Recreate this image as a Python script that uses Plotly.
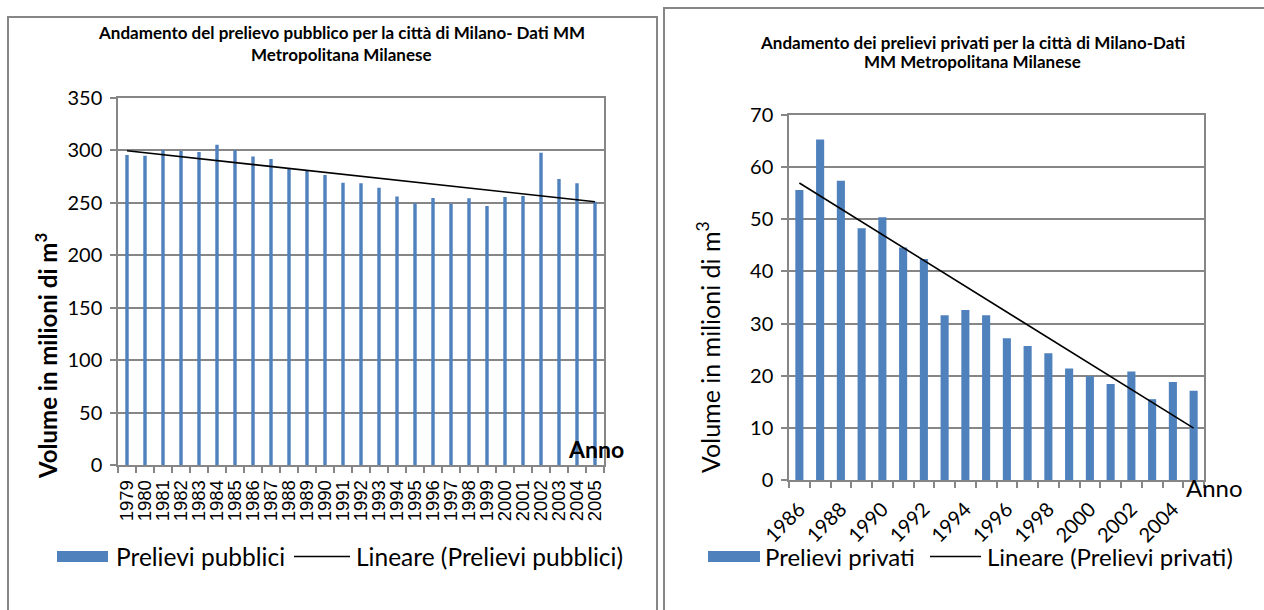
import numpy as np
import plotly.graph_objects as go

W, H = 1264, 610

# Public withdrawals (million m3), 1979-2005
anni_pub = list(range(1979, 2006))
prelievi_pubblici = [295.2, 294.6, 300.0, 299.0, 298.0, 305.0, 299.7, 293.7, 291.4,
                     281.9, 280.0, 276.2, 268.9, 268.3, 264.0, 255.6, 249.2, 254.3,
                     248.9, 254.0, 246.7, 255.2, 256.2, 297.5, 272.4, 268.3, 250.8]

# Private withdrawals (million m3), 1986-2005
anni_priv = list(range(1986, 2006))
prelievi_privati = [55.6, 65.3, 57.4, 48.3, 50.4, 44.6, 42.4, 31.6, 32.6, 31.6,
                    27.2, 25.7, 24.3, 21.4, 19.9, 18.4, 20.8, 15.5, 18.8, 17.1]

y_ticks_pub = [0, 50, 100, 150, 200, 250, 300, 350]
y_ticks_priv = [0, 10, 20, 30, 40, 50, 60, 70]
x_labels_priv = list(range(1986, 2005, 2))

BAR = "#4F81BD"
GRID = "#868686"
CAL = "Lato"
ARIAL = "Liberation Sans"


def px(x):
    return x / W


def py(y):
    return 1 - y / H


# Linear trend lines (least squares), as in the spreadsheet
c_pub = np.polyfit(anni_pub, prelievi_pubblici, 1)
trend_pub = np.polyval(c_pub, anni_pub)
c_priv = np.polyfit(anni_priv, prelievi_privati, 1)
trend_priv = np.polyval(c_priv, anni_priv)

fig = go.Figure()
fig.add_trace(go.Bar(x=anni_pub, y=prelievi_pubblici, width=0.19,
                     marker=dict(color=BAR, line=dict(width=0)),
                     xaxis="x", yaxis="y", showlegend=False))
fig.add_trace(go.Scatter(x=anni_pub, y=trend_pub, mode="lines",
                         line=dict(color="black", width=1.6),
                         xaxis="x", yaxis="y", showlegend=False))
fig.add_trace(go.Bar(x=anni_priv, y=prelievi_privati, width=0.39,
                     marker=dict(color=BAR, line=dict(width=0)),
                     xaxis="x2", yaxis="y2", showlegend=False))
fig.add_trace(go.Scatter(x=anni_priv, y=trend_priv, mode="lines",
                         line=dict(color="black", width=1.6),
                         xaxis="x2", yaxis="y2", showlegend=False))

axis_common = dict(showline=True, linecolor=GRID, linewidth=1.5, mirror=True,
                   zeroline=False, automargin=False)

fig.update_layout(
    width=W, height=H,
    margin=dict(l=0, r=0, t=0, b=0, autoexpand=False),
    paper_bgcolor="white", plot_bgcolor="white",
    showlegend=False,
    xaxis=dict(domain=[px(118), px(604)], anchor="y",
               range=[1978.5, 2005.5], tickmode="array", tickvals=anni_pub,
               ticktext=[str(a) for a in anni_pub], tickangle=-90,
               ticks="", showgrid=False, ticklabelstandoff=6,
               tickfont=dict(family=ARIAL, size=18.5, color="black"),
               minor=dict(tickmode="array",
                          tickvals=[a - 0.5 for a in anni_pub] + [anni_pub[-1] + 0.5],
                          ticks="outside", ticklen=6, tickcolor=GRID, tickwidth=1.5,
                          showgrid=False),
               **axis_common),
    yaxis=dict(domain=[py(465), py(97.5)], anchor="x",
               range=[0, 350], tickmode="array", tickvals=y_ticks_pub,
               ticks="outside", ticklen=6, tickcolor=GRID, tickwidth=1.5,
               showgrid=True, gridcolor=GRID, gridwidth=1.5,
               tickfont=dict(family=CAL, size=20, color="black"),
               ticklabelstandoff=4,
               **axis_common),
    xaxis2=dict(domain=[px(789), px(1204)], anchor="y2",
                range=[1985.5, 2005.5], tickmode="array", tickvals=x_labels_priv,
                ticktext=[str(a) for a in x_labels_priv], tickangle=-45,
                ticks="", showgrid=False, ticklabelstandoff=8,
                tickfont=dict(family=CAL, size=20, color="black"),
                minor=dict(tickmode="array",
                           tickvals=[a - 0.5 for a in anni_priv] + [anni_priv[-1] + 0.5],
                           ticks="outside", ticklen=6, tickcolor=GRID, tickwidth=1.5,
                           showgrid=False),
                **axis_common),
    yaxis2=dict(domain=[py(480), py(115)], anchor="x2",
                range=[0, 70], tickmode="array", tickvals=y_ticks_priv,
                ticks="outside", ticklen=6, tickcolor=GRID, tickwidth=1.5,
                showgrid=True, gridcolor=GRID, gridwidth=1.5,
                tickfont=dict(family=CAL, size=20, color="black"),
                ticklabelstandoff=4,
                **axis_common),
)

shapes = [
    # chart frames
    dict(type="rect", xref="paper", yref="paper",
         x0=px(8), x1=px(657), y0=py(640), y1=py(17),
         line=dict(color=GRID, width=2), fillcolor="rgba(0,0,0,0)", layer="below"),
    dict(type="rect", xref="paper", yref="paper",
         x0=px(664), x1=px(1290), y0=py(640), y1=py(8),
         line=dict(color=GRID, width=2), fillcolor="rgba(0,0,0,0)", layer="below"),
    # legend keys
    dict(type="rect", xref="paper", yref="paper",
         x0=px(57), x1=px(108), y0=py(562), y1=py(551),
         fillcolor=BAR, line=dict(width=0)),
    dict(type="line", xref="paper", yref="paper",
         x0=px(294), x1=px(350), y0=py(556.5), y1=py(556.5),
         line=dict(color="black", width=1.6)),
    dict(type="rect", xref="paper", yref="paper",
         x0=px(708), x1=px(760), y0=py(562), y1=py(551),
         fillcolor=BAR, line=dict(width=0)),
    dict(type="line", xref="paper", yref="paper",
         x0=px(930), x1=px(981), y0=py(556.5), y1=py(556.5),
         line=dict(color="black", width=1.6)),
]


def ann(text, x, y, size, bold=False, xanchor="center", angle=0, family=CAL):
    t = f"<b>{text}</b>" if bold else text
    return dict(text=t, x=px(x), y=py(y), xref="paper", yref="paper",
                xanchor=xanchor, yanchor="middle", showarrow=False,
                textangle=angle, font=dict(family=family, size=size, color="black"))


annotations = [
    ann("Andamento del prelievo pubblico per la città di Milano- Dati MM", 341, 33, 17, True),
    ann("Metropolitana Milanese", 341, 55, 17, True),
    ann("Andamento dei prelievi privati per la città di Milano-Dati", 972, 42, 17, True),
    ann("MM Metropolitana Milanese", 972, 62, 17, True),
    ann("Volume in milioni di m<sup>3</sup>", 46, 356, 24, True, angle=-90),
    ann("Volume in milioni di m<sup>3</sup>", 708, 347, 25, False, angle=-90),
    ann("Anno", 596, 449, 23, True),
    ann("Anno", 1214, 487, 24, False),
    ann("Prelievi pubblici", 114, 556.5, 24.5, xanchor="left"),
    ann("Lineare (Prelievi pubblici)", 354, 556.5, 24.5, xanchor="left"),
    ann("Prelievi privati", 763, 556, 24, xanchor="left"),
    ann("Lineare (Prelievi privati)", 985, 556, 24, xanchor="left"),
]

fig.update_layout(shapes=shapes, annotations=annotations)
fig.write_html("out.html")
